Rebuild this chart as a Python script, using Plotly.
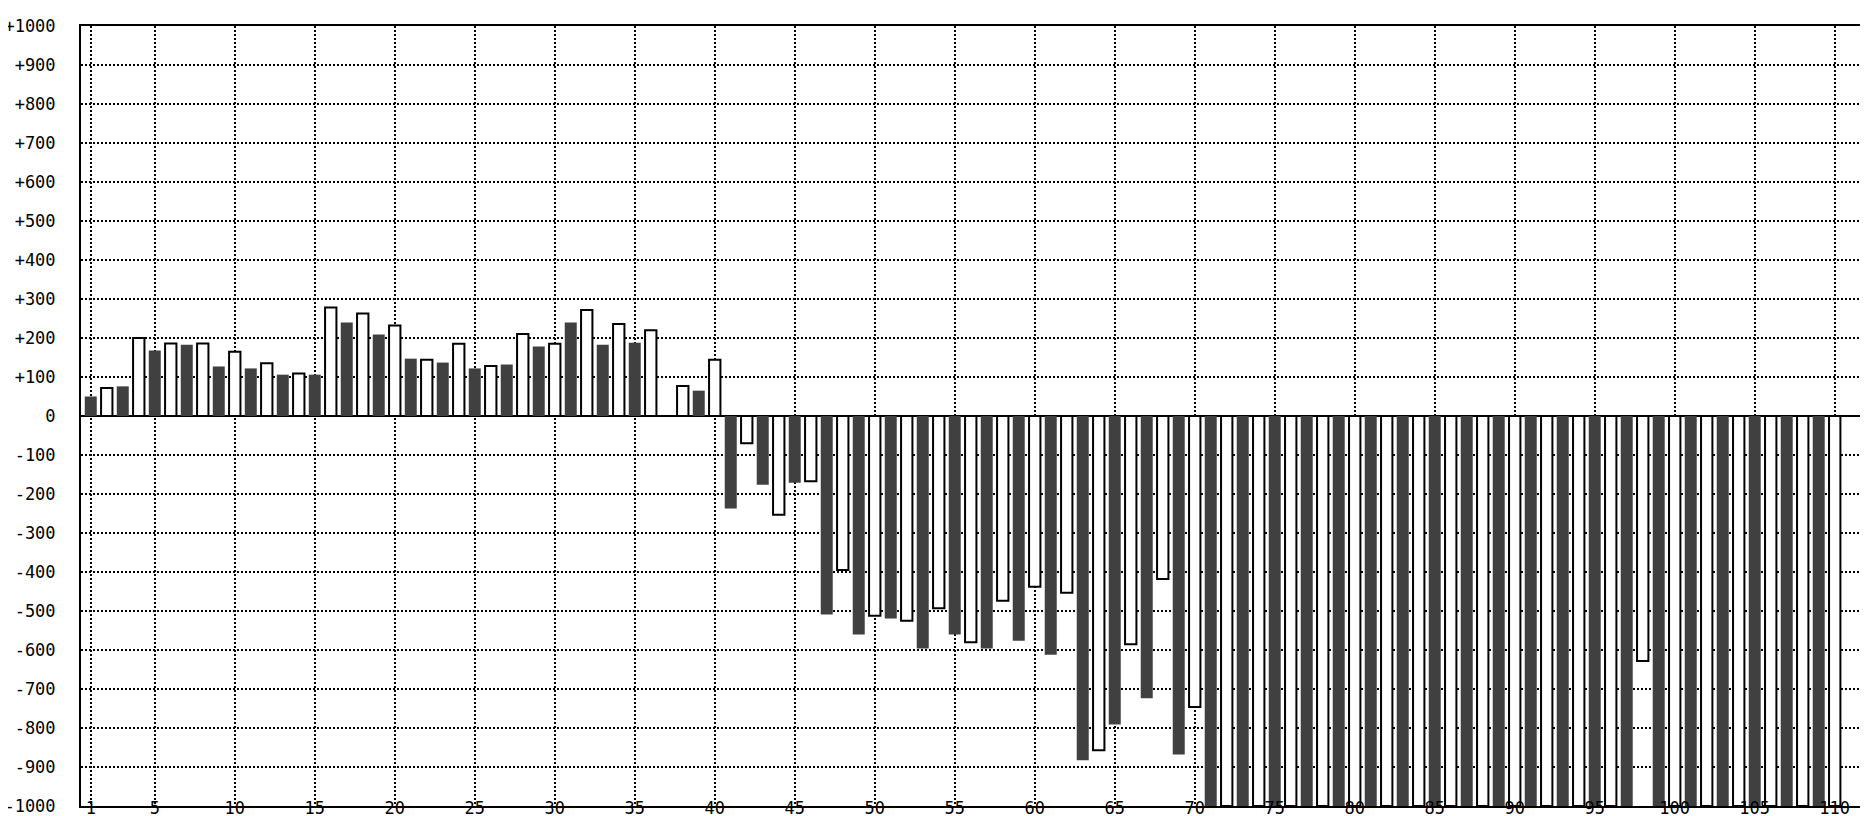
import plotly.graph_objects as go

# Categories (x positions 1..110)
categories = list(range(1, 111))

# Values, x = 1..110
values_01_10 = [50, 72, 76, 200, 168, 186, 183, 186, 127, 165]
values_11_20 = [122, 135, 106, 109, 106, 278, 240, 263, 209, 232]
values_21_30 = [147, 144, 137, 185, 122, 128, 132, 210, 178, 185]
values_31_40 = [240, 272, 183, 236, 188, 220, 0, 77, 65, 144]
values_41_50 = [-237, -70, -176, -253, -171, -167, -509, -395, -560, -512]
values_51_60 = [-519, -525, -596, -493, -560, -580, -596, -474, -576, -438]
values_61_70 = [-612, -453, -883, -857, -791, -585, -724, -418, -868, -746]
values_71_80 = [-1000, -1000, -1000, -1000, -1000, -1000, -1000, -1000, -1000, -1000]
values_81_90 = [-1000, -1000, -1000, -1000, -1000, -1000, -1000, -1000, -1000, -1000]
values_91_100 = [-1000, -1000, -1000, -1000, -1000, -1000, -1000, -628, -1000, -1000]
values_101_110 = [-1000, -1000, -1000, -1000, -1000, -1000, -1000, -1000, -1000, -1000]

values = (values_01_10 + values_11_20 + values_21_30 + values_31_40 + values_41_50
          + values_51_60 + values_61_70 + values_71_80 + values_81_90 + values_91_100
          + values_101_110)

y_tick_vals = [v for v in range(-1000, 1001, 100)]
y_tick_text = [("+%d" % v) if v > 0 else ("0" if v == 0 else "-%d" % abs(v)) for v in y_tick_vals]
x_tick_vals = [1, 5, 10, 15, 20, 25, 30, 35, 40, 45, 50, 55, 60, 65, 70, 75, 80, 85, 90,
               95, 100, 105, 110]

odd_x = [c for c in categories if c % 2 == 1]
odd_y = [v for c, v in zip(categories, values) if c % 2 == 1]
even_x = [c for c in categories if c % 2 == 0]
even_y = [v for c, v in zip(categories, values) if c % 2 == 0]

fig = go.Figure()
fig.add_trace(go.Bar(x=odd_x, y=odd_y, width=0.75,
                     marker=dict(color="#404040", line=dict(width=0)),
                     showlegend=False))
fig.add_trace(go.Bar(x=even_x, y=even_y, width=0.71,
                     marker=dict(color="#ffffff", line=dict(color="#000000", width=2)),
                     showlegend=False))

fig.update_layout(
    width=1868, height=816,
    margin=dict(l=73, r=0, t=18, b=18),
    plot_bgcolor="#ffffff", paper_bgcolor="#ffffff",
    barmode="overlay",
    font=dict(family="DejaVu Sans Mono", size=17, color="#000000"),
)
fig.update_xaxes(
    range=[0.39, 112.58],
    tickmode="array", tickvals=x_tick_vals, ticktext=[str(v) for v in x_tick_vals],
    ticks="", ticklabelstandoff=-14, tickfont=dict(size=17),
    showgrid=True, gridcolor="#000000", gridwidth=1.5, griddash="2px,2px",
    showline=True, linecolor="#000000", linewidth=2, mirror=True,
    zeroline=False, automargin=False,
)
fig.update_yaxes(
    range=[-1000, 1000],
    tickmode="array", tickvals=y_tick_vals, ticktext=y_tick_text,
    ticks="", ticklabelstandoff=20,
    showgrid=True, gridcolor="#000000", gridwidth=1.5, griddash="2px,2px",
    showline=True, linecolor="#000000", linewidth=2, mirror=False,
    zeroline=True, zerolinecolor="#000000", zerolinewidth=2,
    automargin=False,
)

fig.write_html("out.html")
